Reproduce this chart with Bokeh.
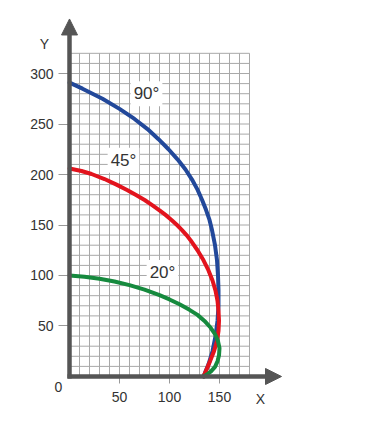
from bokeh.plotting import figure
from bokeh.models import Range1d, FixedTicker, Arrow, NormalHead, Label
from bokeh.embed import file_html
from bokeh.resources import INLINE
import numpy as np

# ---- data ----
x_ticks = [50, 100, 150]
y_ticks = [50, 100, 150, 200, 250, 300]

blue_x = [0, 13, 33, 50, 65, 78, 89, 99, 108, 116, 122.5, 128, 132.5, 136.5, 140, 142.5,
          145.5, 147.5, 148.5, 149, 149, 148, 146, 143, 139, 134]
blue_y = [291, 285, 275, 265, 255, 245, 235, 225, 215, 205, 195, 185, 175, 165, 155, 145,
          130, 115, 100, 85, 70, 55, 40, 25, 12, 0]

red_x = [0, 12, 22, 35, 47, 58, 67, 75.5, 83, 90, 96, 102, 107.5, 112.5, 117, 121, 128, 134,
         139, 143, 146, 148, 149, 149.5, 149, 147.5, 144.5, 140.5, 137, 134]
red_y = [206, 203.5, 200.5, 195.5, 190, 184.5, 179.5, 174.5, 169.5, 164.5, 160, 155, 150, 145,
         140, 135, 125, 115, 105, 95, 85, 75, 65, 55, 45, 35, 25, 15, 7, 0]

green_x = [0, 15, 30, 45, 60, 75, 90, 100, 110, 120, 128, 135, 141, 145.5, 148.5, 150, 149.5,
           148, 145.5, 141.5, 137.5, 134.5]
green_y = [100, 98.8, 96.8, 94, 90.5, 86, 80.5, 76.3, 71.5, 66, 61, 55, 48.5, 42, 35, 28, 21,
           15, 9.5, 5, 2, 0]

labels = ["90°", "45°", "20°"]
label_x = [77, 54, 93]
label_y = [280, 214, 103]

grid_xmax = 180
grid_ymax = 320

FONT = "Liberation Sans"
TXT = "#333333"
AX = "#555555"

# frame covers the whole page: px 0..371 / 0..428, x=0 at px 69, y=0 at py 376
p = figure(width=371, height=428, output_backend="svg", toolbar_location=None,
           x_range=Range1d(-69, 302), y_range=Range1d(-51.5, 372.3),
           min_border=0, min_border_left=0, min_border_right=0,
           min_border_top=0, min_border_bottom=0)
p.outline_line_color = None
p.grid.visible = False
p.background_fill_color = "white"
p.border_fill_color = "white"

# grid
gx = np.arange(10, grid_xmax + 1, 10)
gy = np.arange(10, grid_ymax + 1, 10)
p.segment(x0=gx, y0=0, x1=gx, y1=grid_ymax, line_color="#a8a8a8", line_width=1)
p.segment(x0=0, y0=gy, x1=grid_xmax, y1=gy, line_color="#a8a8a8", line_width=1)

# curves
p.line(blue_x, blue_y, line_color="#22489a", line_width=4, line_join="round", line_cap="round")
p.line(red_x, red_y, line_color="#e2131d", line_width=4, line_join="round", line_cap="round")
p.line(green_x, green_y, line_color="#168a3e", line_width=4, line_join="round", line_cap="round")

# axes fixed at the data origin (ticks + labels only)
for ax, ticks in ((p.xaxis, x_ticks), (p.yaxis, y_ticks)):
    ax.fixed_location = 0
    ax.ticker = FixedTicker(ticks=ticks)
    ax.axis_line_color = None
    ax.minor_tick_line_color = None
    ax.major_tick_line_color = "#999999"
    ax.major_label_text_font = FONT
    ax.major_label_text_font_size = "14px"
    ax.major_label_text_color = TXT
p.yaxis.major_tick_out = 11
p.yaxis.major_tick_in = 0
p.yaxis.major_label_standoff = 5
p.xaxis.major_tick_out = 7
p.xaxis.major_tick_in = 0
p.xaxis.major_label_standoff = 9

# arrow axes
p.add_layout(Arrow(x_start=-2, y_start=0, x_end=212, y_end=0, line_color=AX, line_width=4.5,
                   end=NormalHead(size=16, fill_color=AX, line_color=AX)))
p.add_layout(Arrow(x_start=0, y_start=-2, x_end=0, y_end=354, line_color=AX, line_width=4.5,
                   end=NormalHead(size=16, fill_color=AX, line_color=AX)))

# axis names and origin
for t, x, y in (("Y", -25, 329.7), ("X", 191, -21.8), ("0", -11, -10.9)):
    p.add_layout(Label(x=x, y=y, text=t, text_font=FONT, text_font_size="14px", text_color=TXT,
                       text_align="center", text_baseline="middle"))

# curve labels
for t, x, y in zip(labels, label_x, label_y):
    p.add_layout(Label(x=x, y=y, text=t, text_font=FONT, text_font_size="17px", text_color=TXT,
                       text_align="center", text_baseline="middle",
                       background_fill_color="white", padding=3))

open("out.html", "w").write(file_html(p, INLINE))
